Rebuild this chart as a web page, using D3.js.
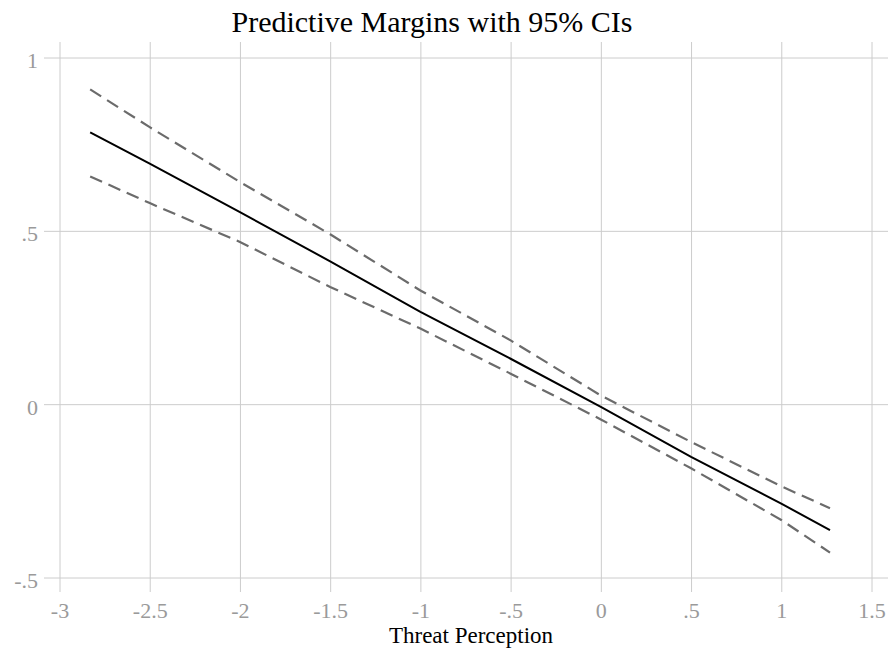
<!DOCTYPE html>
<html>
<head>
<meta charset="utf-8">
<script src="https://cdn.jsdelivr.net/npm/d3@7"></script>
<style>
  html, body { margin: 0; padding: 0; background: #fff; }
  svg { display: block; }
</style>
</head>
<body>
<script>
// Predictive margins of the outcome over threat perception, with 95% confidence bounds
const threat = [-2.83, -2.5, -2, -1.5, -1, -0.5, 0, 0.5, 1, 1.27];
const margin = [0.784, 0.694, 0.554, 0.412, 0.266, 0.131, -0.008, -0.152, -0.287, -0.363];
const upper  = [0.908, 0.799, 0.641, 0.490, 0.328, 0.184, 0.025, -0.109, -0.237, -0.300];
const lower  = [0.657, 0.580, 0.468, 0.338, 0.218, 0.088, -0.044, -0.185, -0.334, -0.428];

const xTicks = [-3, -2.5, -2, -1.5, -1, -0.5, 0, 0.5, 1, 1.5];
const yTicks = [-0.5, 0, 0.5, 1];
const tickLabel = v => v === 0 ? "0" : String(v).replace(/^(-?)0\./, "$1.");

const W = 889, H = 648;
const svg = d3.select("body").append("svg").attr("width", W).attr("height", H);

const x = d3.scaleLinear().domain([-3, 1.5]).range([59.5, 871.5]);
const y = d3.scaleLinear().domain([-0.5, 1]).range([577.5, 57.5]);

const gridColor = "#cccccc";
const labelColor = "#9a9a9a";
const font = "'Liberation Serif', 'Times New Roman', serif";

// horizontal grid with its tick stubs on the left
svg.append("g").attr("transform", "translate(888,0)")
  .call(d3.axisLeft(y).tickValues(yTicks).tickSize(888 - 44).tickFormat(tickLabel).tickPadding(6))
  .call(g => g.select(".domain").remove())
  .call(g => g.selectAll("line").attr("stroke", gridColor).attr("stroke-width", 1))
  .call(g => g.selectAll("text").attr("dy", "0.45em").attr("fill", labelColor)
    .attr("font-family", font).attr("font-size", 22));

// vertical grid reaching past the plot top and bottom
svg.append("g").attr("transform", "translate(0,592)")
  .call(d3.axisBottom(x).tickValues(xTicks).tickSize(-(592 - 42)).tickFormat(tickLabel).tickPadding(0))
  .call(g => g.select(".domain").remove())
  .call(g => g.selectAll("line").attr("stroke", gridColor).attr("stroke-width", 1))
  .call(g => g.selectAll("text").attr("dy", 0).attr("y", 26).attr("fill", labelColor)
    .attr("font-family", font).attr("font-size", 22));

const pts = arr => threat.map((t, i) => [t, arr[i]]);
const line = d3.line().x(d => x(d[0])).y(d => y(d[1]));

svg.append("path").datum(pts(upper)).attr("d", line)
  .attr("fill", "none").attr("stroke", "#6b6b6b").attr("stroke-width", 2.2).attr("stroke-dasharray", "13,7");
svg.append("path").datum(pts(lower)).attr("d", line)
  .attr("fill", "none").attr("stroke", "#6b6b6b").attr("stroke-width", 2.2).attr("stroke-dasharray", "13,7");
svg.append("path").datum(pts(margin)).attr("d", line)
  .attr("fill", "none").attr("stroke", "#000").attr("stroke-width", 2);

svg.append("text").attr("x", 432).attr("y", 32).attr("text-anchor", "middle")
  .attr("font-family", font).attr("font-size", 30).attr("fill", "#000")
  .text("Predictive Margins with 95% CIs");

svg.append("text").attr("x", 471).attr("y", 643).attr("text-anchor", "middle")
  .attr("font-family", font).attr("font-size", 23).attr("fill", "#000")
  .text("Threat Perception");
</script>
</body>
</html>
